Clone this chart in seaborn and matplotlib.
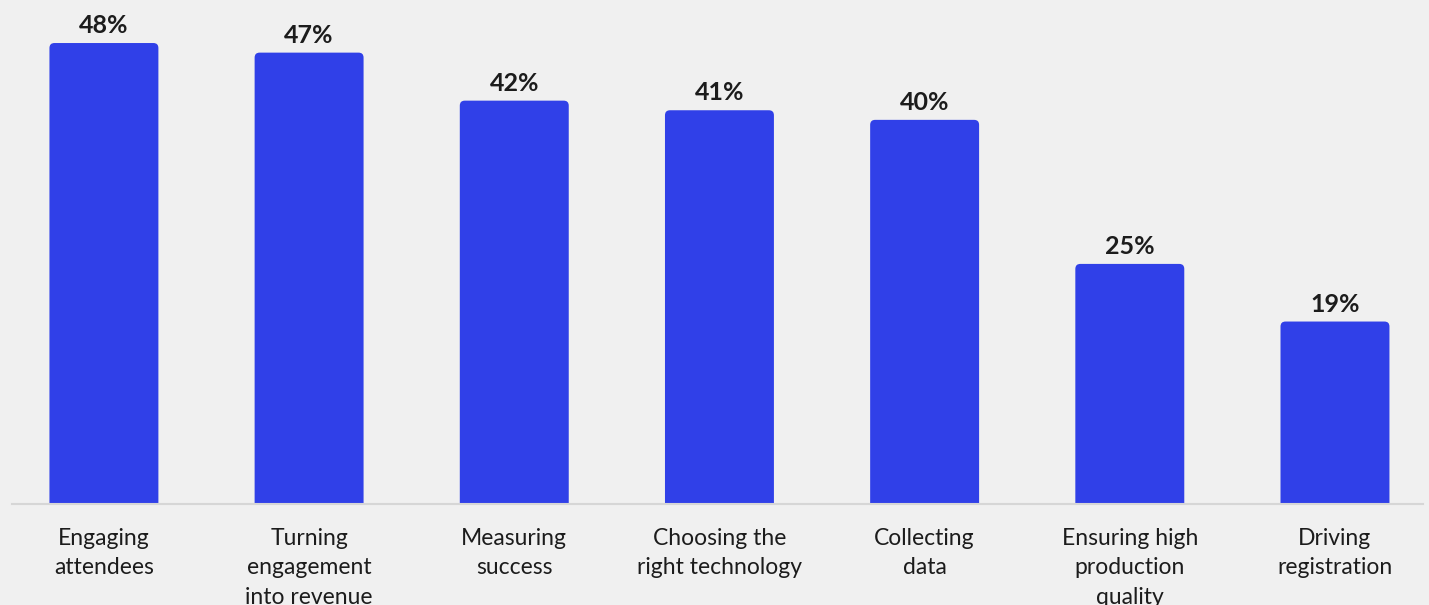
import matplotlib
matplotlib.use("Agg")
import matplotlib.pyplot as plt
from matplotlib.patches import FancyBboxPatch
import seaborn as sns
import pandas as pd

categories = [
    "Engaging\nattendees",
    "Turning\nengagement\ninto revenue",
    "Measuring\nsuccess",
    "Choosing the\nright technology",
    "Collecting\ndata",
    "Ensuring high\nproduction\nquality",
    "Driving\nregistration",
]
values = [48, 47, 42, 41, 40, 25, 19]
value_labels = [f"{v}%" for v in values]

BG = "#f0f0f0"
BAR = "#3040e8"
TEXT = "#1c1c1c"

sns.set_theme(style="white")
plt.rcParams["font.family"] = ["Lato", "DejaVu Sans"]

df = pd.DataFrame({"challenge": categories, "share": values})

fig = plt.figure(figsize=(14.29, 6.05), dpi=100, facecolor=BG)
ax = fig.add_axes([12 / 1429, 101 / 605, 1411 / 1429, 504 / 605])
ax.set_facecolor(BG)

sns.barplot(data=df, x="challenge", y="share", color=BAR, width=0.531,
            saturation=1, ax=ax, zorder=2)

ax.set_xlim(-0.448, 6.429)
ax.set_ylim(0, 52.48)

# replace the plain rectangles with top-rounded bars
px_x = 1411 / (6.429 + 0.448)
px_y = 504 / 52.48
radius = 5 / px_x
for patch, lab in zip(list(ax.patches), value_labels):
    x0, w, h = patch.get_x(), patch.get_width(), patch.get_height()
    patch.set_visible(False)
    rounded = FancyBboxPatch((x0, -2), w, h + 2,
                             boxstyle=f"round,pad=0,rounding_size={radius}",
                             mutation_aspect=px_x / px_y,
                             facecolor=BAR, edgecolor="none", zorder=2)
    ax.add_patch(rounded)
    ax.text(x0 + w / 2, h + 10 / px_y, lab, ha="center", va="baseline",
            fontsize=18, fontweight="bold", color=TEXT)

for side in ["top", "right", "left"]:
    ax.spines[side].set_visible(False)
ax.spines["bottom"].set_color("#d6d6d6")
ax.spines["bottom"].set_linewidth(1.5)
ax.set_yticks([])
ax.set_xlabel("")
ax.set_ylabel("")
ax.tick_params(axis="x", length=0, pad=17, labelsize=16.5, labelcolor=TEXT)
for t in ax.get_xticklabels():
    t.set_linespacing(1.5)
    t.set_verticalalignment("top")

fig.savefig("out.png", dpi=100, facecolor=BG)
